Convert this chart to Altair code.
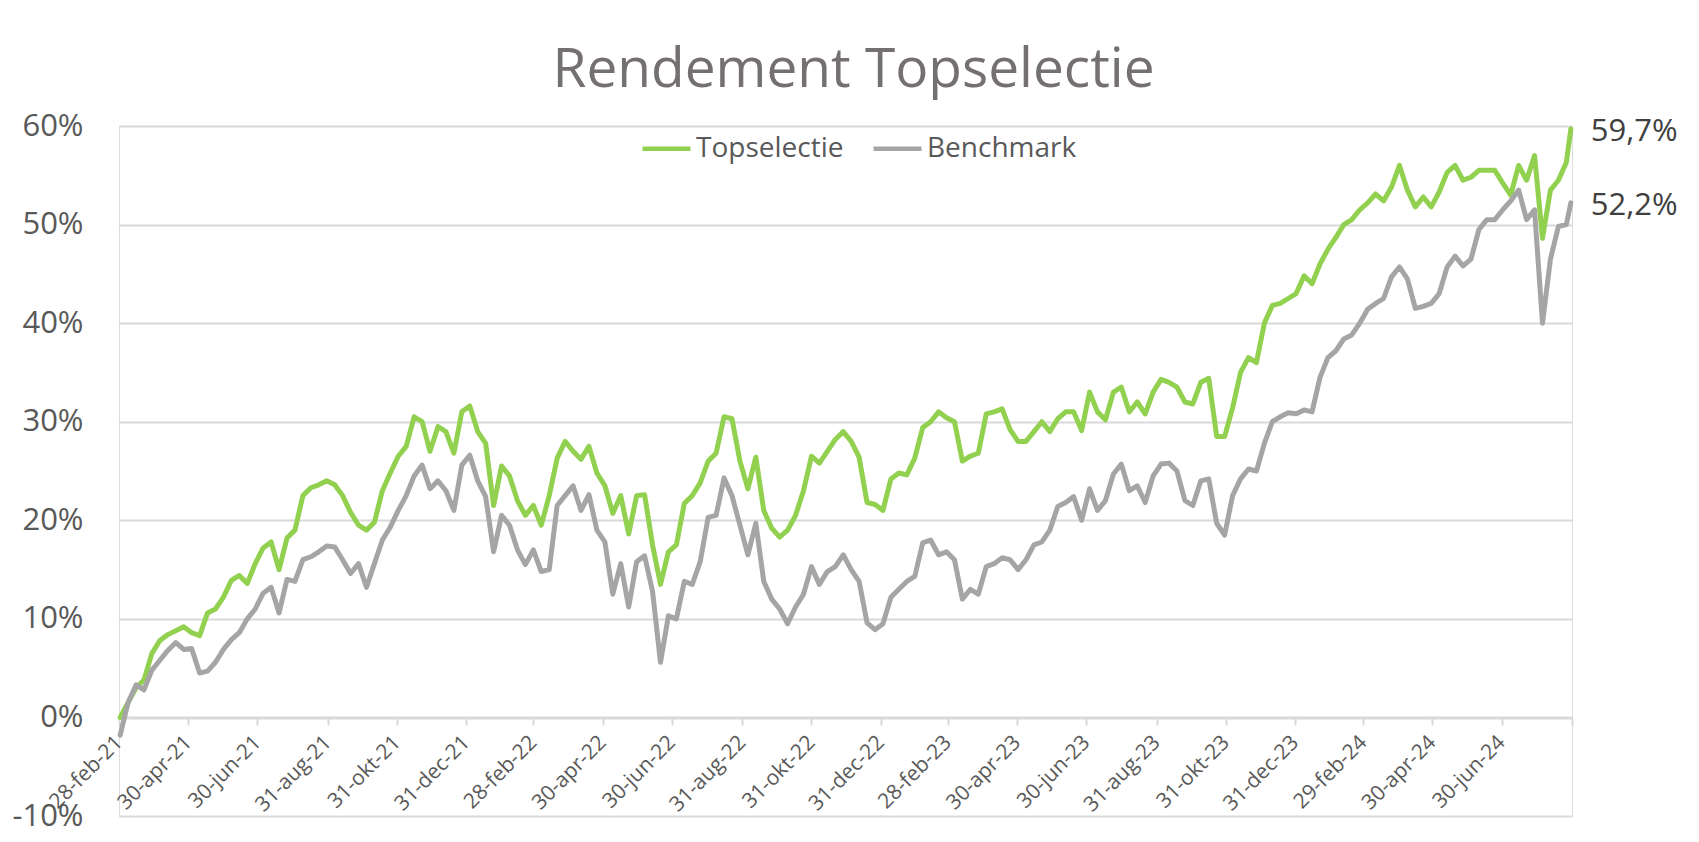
import json
import altair as alt
import pandas as pd

# ---------------- data ----------------
START = "2021-03-01"          # first weekly observation
N_WEEKS = 183                 # weekly observations up to 2024-08-26
LAST_DATE = "2024-08-30"      # final observation

TOPSELECTIE = [
    0.0, 1.5, 3.0, 3.8, 6.5, 7.8, 8.4, 8.8, 9.2, 8.6,
    8.3, 10.6, 11.0, 12.2, 13.9, 14.4, 13.6, 15.6, 17.2, 17.8,
    15.0, 18.2, 19.0, 22.5, 23.3, 23.6, 24.0, 23.6, 22.5, 20.8,
    19.5, 19.0, 19.8, 23.0, 24.8, 26.5, 27.5, 30.5, 30.0, 27.0,
    29.5, 29.0, 26.8, 31.0, 31.6, 29.0, 27.8, 21.5, 25.5, 24.5,
    22.0, 20.5, 21.5, 19.5, 22.5, 26.3, 28.0, 27.0, 26.2, 27.5,
    24.8, 23.5, 20.7, 22.5, 18.6, 22.5, 22.6, 17.5, 13.5, 16.8,
    17.5, 21.7, 22.5, 23.8, 26.0, 26.8, 30.5, 30.3, 26.0, 23.2,
    26.4, 21.0, 19.2, 18.3, 19.0, 20.5, 23.0, 26.5, 25.8, 27.0,
    28.2, 29.0, 28.0, 26.4, 21.8, 21.6, 21.0, 24.2, 24.8, 24.6,
    26.3, 29.4, 30.0, 31.0, 30.4, 30.0, 26.0, 26.5, 26.8, 30.8,
    31.0, 31.3, 29.2, 28.0, 28.0, 29.0, 30.0, 29.0, 30.3, 31.0,
    31.0, 29.1, 33.0, 31.0, 30.2, 33.0, 33.5, 31.0, 32.0, 30.8,
    33.0, 34.3, 34.0, 33.5, 32.0, 31.8, 34.0, 34.4, 28.5, 28.5,
    31.4, 35.0, 36.5, 36.0, 40.0, 41.8, 42.0, 42.5, 43.0, 44.8,
    44.0, 46.0, 47.5, 48.7, 50.0, 50.5, 51.5, 52.2, 53.1, 52.4,
    53.8, 56.0, 53.5, 51.8, 52.8, 51.8, 53.3, 55.3, 56.0, 54.5,
    54.8, 55.5, 55.5, 55.5, 54.2, 53.0, 56.0, 54.5, 57.0, 48.6,
    53.5, 54.5, 56.3, 59.7,
]

BENCHMARK = [
    -1.8, 1.5, 3.3, 2.8, 4.8, 5.8, 6.8, 7.6, 6.9, 7.0,
    4.5, 4.7, 5.6, 6.9, 7.9, 8.6, 10.0, 11.0, 12.6, 13.2,
    10.6, 14.0, 13.8, 16.0, 16.3, 16.8, 17.4, 17.3, 16.0, 14.6,
    15.6, 13.2, 15.6, 18.0, 19.3, 21.0, 22.5, 24.5, 25.6, 23.2,
    24.0, 23.0, 21.0, 25.6, 26.6, 24.0, 22.4, 16.8, 20.5, 19.5,
    17.0, 15.5, 17.0, 14.8, 15.0, 21.5, 22.5, 23.5, 21.0, 22.6,
    19.0, 17.8, 12.5, 15.6, 11.2, 15.8, 16.4, 12.8, 5.6, 10.3,
    10.0, 13.8, 13.5, 15.8, 20.3, 20.5, 24.3, 22.5, 19.5, 16.5,
    19.7, 13.8, 12.0, 11.0, 9.5, 11.2, 12.5, 15.3, 13.5, 14.8,
    15.3, 16.5, 15.0, 13.8, 9.6, 8.9, 9.5, 12.2, 13.0, 13.8,
    14.3, 17.7, 18.0, 16.5, 16.8, 16.0, 12.0, 13.0, 12.5, 15.3,
    15.6, 16.2, 16.0, 15.0, 16.0, 17.5, 17.8, 19.0, 21.4, 21.8,
    22.4, 20.0, 23.2, 21.0, 22.0, 24.7, 25.7, 23.0, 23.5, 21.8,
    24.5, 25.7, 25.8, 25.0, 22.0, 21.5, 24.0, 24.2, 19.7, 18.5,
    22.5, 24.2, 25.2, 25.0, 27.8, 30.0, 30.5, 30.9, 30.8, 31.2,
    31.0, 34.5, 36.5, 37.2, 38.4, 38.8, 40.0, 41.4, 42.0, 42.5,
    44.7, 45.7, 44.5, 41.5, 41.7, 42.0, 43.0, 45.7, 46.8, 45.8,
    46.5, 49.5, 50.5, 50.5, 51.5, 52.4, 53.5, 50.5, 51.5, 40.0,
    46.5, 49.8, 50.0, 52.2,
]

SERIES = ["Topselectie", "Benchmark"]
COLORS = ["#92D050", "#A5A5A5"]

TICK_DATES = [
    "2021-02-28", "2021-04-30", "2021-06-30", "2021-08-31", "2021-10-31", "2021-12-31",
    "2022-02-28", "2022-04-30", "2022-06-30", "2022-08-31", "2022-10-31", "2022-12-31",
    "2023-02-28", "2023-04-30", "2023-06-30", "2023-08-31", "2023-10-31", "2023-12-31",
    "2024-02-29", "2024-04-30", "2024-06-30", "2024-08-31",
]
TICK_LABELS = [
    "28-feb-21", "30-apr-21", "30-jun-21", "31-aug-21", "31-okt-21", "31-dec-21",
    "28-feb-22", "30-apr-22", "30-jun-22", "31-aug-22", "31-okt-22", "31-dec-22",
    "28-feb-23", "30-apr-23", "30-jun-23", "31-aug-23", "31-okt-23", "31-dec-23",
    "29-feb-24", "30-apr-24", "30-jun-24", "",
]
Y_TICKS = [-10, 0, 10, 20, 30, 40, 50, 60]
TITLE = "Rendement Topselectie"

# ---------------- build table ----------------
dates = [d.strftime("%Y-%m-%d") for d in pd.date_range(START, periods=N_WEEKS, freq="7D")] + [LAST_DATE]
assert len(dates) == len(TOPSELECTIE) == len(BENCHMARK)

rows = []
for name, vals in zip(SERIES, [TOPSELECTIE, BENCHMARK]):
    for i, (d, v) in enumerate(zip(dates, vals)):
        rows.append({"date": d, "series": name, "value": v, "end": i == len(vals) - 1})
df = pd.DataFrame(rows)

tick_ms = [int(pd.Timestamp(d, tz="UTC").timestamp() * 1000) for d in TICK_DATES]
label_expr = (
    f"indexof({json.dumps(tick_ms)}, time(datum.value)) >= 0 ? "
    f"{json.dumps(TICK_LABELS)}[indexof({json.dumps(tick_ms)}, time(datum.value))] : ''"
)

FONT = "Open Sans"
GRID = "#D9D9D9"
TXT = "#595959"

x_enc = alt.X(
    "date:T",
    scale=alt.Scale(type="utc", domain=[tick_ms[0], tick_ms[-1]], nice=False),
    axis=alt.Axis(
        values=tick_ms,
        labelExpr=label_expr,
        labelAngle=315,
        labelAlign="right",
        labelBaseline="middle",
        labelFontSize=21,
        labelFont=FONT,
        labelColor=TXT,
        labelPadding=14,
        labelOverlap=False,
        labelFlush=False,
        labelBound=False,
        tickSize=7,
        tickWidth=2,
        tickColor=GRID,
        domainColor=GRID,
        domainWidth=2,
        grid=False,
        offset=-98,
        title=None,
    ),
)
y_enc = alt.Y(
    "value:Q",
    scale=alt.Scale(domain=[-10, 60], nice=False, zero=False),
    axis=alt.Axis(
        values=Y_TICKS,
        labelExpr="datum.value + '%'",
        labelFontSize=31,
        labelFont=FONT,
        labelColor=TXT,
        labelPadding=36,
        grid=True,
        gridColor=GRID,
        gridWidth=2,
        domain=False,
        ticks=False,
        title=None,
    ),
)
color_enc = alt.Color(
    "series:N",
    scale=alt.Scale(domain=SERIES, range=COLORS),
    legend=alt.Legend(
        orient="none",
        legendX=521,
        legendY=-4,
        direction="horizontal",
        title=None,
        symbolType="stroke",
        symbolStrokeWidth=4.5,
        symbolSize=2300,
        labelFontSize=28,
        labelFont=FONT,
        labelColor=TXT,
        labelOffset=3,
        columnPadding=20,
    ),
)

base = alt.Chart(df)

green = base.transform_filter(f"datum.series == '{SERIES[0]}'").mark_line(
    strokeWidth=5, strokeJoin="round", strokeCap="round"
).encode(x=x_enc, y=y_enc, color=color_enc)

grey = base.transform_filter(f"datum.series == '{SERIES[1]}'").mark_line(
    strokeWidth=5, strokeJoin="round", strokeCap="round"
).encode(x=x_enc, y=y_enc, color=color_enc)

end_labels = base.transform_filter("datum.end").transform_calculate(
    lbl="replace(format(datum.value, '.1f'), '.', ',') + '%'"
).mark_text(
    align="left", baseline="middle", dx=20, dy=3, fontSize=31, font=FONT, color="#404040"
).encode(x=alt.X("date:T"), y=alt.Y("value:Q"), text="lbl:N")

chart = alt.layer(green, grey, end_labels).properties(
    width=1453,
    height=690,
    autosize=alt.AutoSizeParams(type="none"),
    padding={"left": 111, "top": 118, "right": 110, "bottom": 18},
    title=alt.Title(
        TITLE,
        fontSize=55,
        font=FONT,
        fontWeight="normal",
        color="#757070",
        anchor="middle",
        baseline="alphabetic",
        offset=40,
        dx=8,
        dy=72,
    ),
).configure_view(stroke=None).configure(background="white", font=FONT)

chart.save("out.html", embed_options={"renderer": "svg", "actions": False})
